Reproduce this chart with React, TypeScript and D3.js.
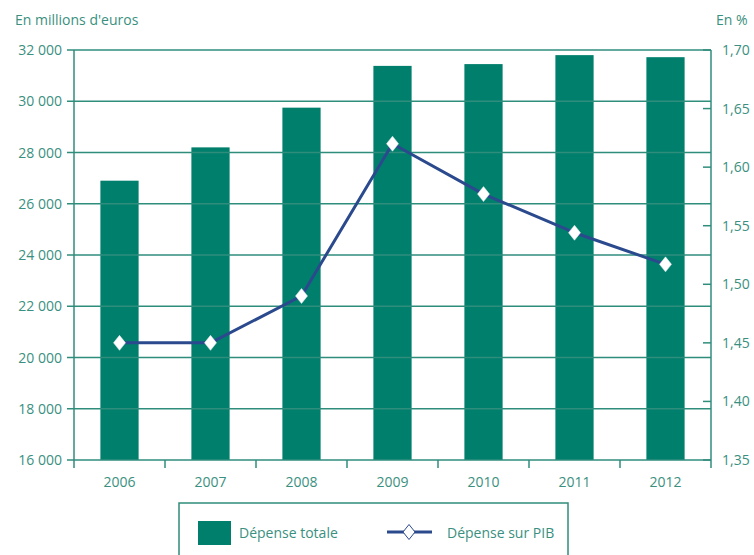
import React from "react";
import * as d3 from "d3";

const years = ["2006", "2007", "2008", "2009", "2010", "2011", "2012"];
const depenseTotale = [26900, 28200, 29750, 31380, 31450, 31800, 31720];
const depensePIB = [1.45, 1.45, 1.49, 1.62, 1.577, 1.544, 1.517];
const leftTicks = [16000, 18000, 20000, 22000, 24000, 26000, 28000, 30000, 32000];
const rightTicks = [1.35, 1.4, 1.45, 1.5, 1.55, 1.6, 1.65, 1.7];

const W = 754;
const H = 555;
const margin = { left: 74, right: 43, top: 50, bottom: 95 };
const TEAL = "#007f6c";
const AXIS = "#2f8d7c";
const TEXT = "#3a9080";
const NAVY = "#2b4a8e";
const FONT = "'Open Sans', sans-serif";

export default function App() {
  const x = d3
    .scaleBand<string>()
    .domain(years)
    .range([margin.left, W - margin.right])
    .paddingInner(0)
    .paddingOuter(0);
  const yL = d3.scaleLinear().domain([16000, 32000]).range([H - margin.bottom, margin.top]);
  const yR = d3.scaleLinear().domain([1.35, 1.7]).range([H - margin.bottom, margin.top]);
  const bw = x.bandwidth() * 0.42;
  const fmtL = (v: number) => d3.format(",")(v).replace(/,/g, "\u00a0");
  const fmtR = (v: number) => d3.format(".2f")(v).replace(".", ",");
  const x0 = margin.left;
  const x1 = W - margin.right;
  const yb = H - margin.bottom;

  const line = d3
    .line<number>()
    .x((_, i) => (x(years[i]) as number) + x.bandwidth() / 2)
    .y((d) => yR(d));

  const diamond = (cx: number, cy: number) =>
    `M${cx},${cy - 7.5}L${cx + 6},${cy}L${cx},${cy + 7.5}L${cx - 6},${cy}Z`;

  return (
    <svg
      width={W}
      height={H}
      style={{ position: "absolute", left: 0, top: 0, background: "#fff" }}
      fontFamily={FONT}
    >
      {/* bars */}
      {depenseTotale.map((v, i) => (
        <rect
          key={years[i]}
          x={(x(years[i]) as number) + (x.bandwidth() - bw) / 2}
          y={yL(v)}
          width={bw}
          height={yb - yL(v)}
          fill={TEAL}
        />
      ))}
      {/* gridlines */}
      {leftTicks.map((t) => (
        <line key={t} x1={x0 - 7} x2={x1} y1={yL(t)} y2={yL(t)} stroke={AXIS} strokeWidth={1.5} />
      ))}
      {rightTicks.map((t) => (
        <line key={t} x1={x1 - 8} x2={x1} y1={yR(t)} y2={yR(t)} stroke={AXIS} strokeWidth={1.5} />
      ))}
      {/* axes */}
      <line x1={x0} x2={x0} y1={margin.top} y2={yb + 8} stroke={AXIS} strokeWidth={1.5} />
      <line x1={x1} x2={x1} y1={margin.top} y2={yb + 8} stroke={AXIS} strokeWidth={1.5} />
      {years.slice(1).map((y) => (
        <line
          key={y}
          x1={x(y) as number}
          x2={x(y) as number}
          y1={yb}
          y2={yb + 8}
          stroke={AXIS}
          strokeWidth={1.5}
        />
      ))}
      {/* left labels */}
      {leftTicks.map((t) => (
        <text key={t} x={62} y={yL(t) + 5} textAnchor="end" fontSize={14} fill={TEXT}>
          {fmtL(t)}
        </text>
      ))}
      {rightTicks.map((t) => (
        <text key={t} x={722} y={yR(t) + 5} textAnchor="start" fontSize={14} fill={TEXT}>
          {fmtR(t)}
        </text>
      ))}
      {years.map((y) => (
        <text
          key={y}
          x={(x(y) as number) + x.bandwidth() / 2}
          y={487}
          textAnchor="middle"
          fontSize={14}
          fill={TEXT}
        >
          {y}
        </text>
      ))}
      <text x={15} y={25} fontSize={14} fill={TEXT}>
        En millions d'euros
      </text>
      <text x={716} y={25} fontSize={14} fill={TEXT}>
        En %
      </text>
      {/* line */}
      <path d={line(depensePIB) || ""} fill="none" stroke={NAVY} strokeWidth={3} strokeLinejoin="round" />
      {depensePIB.map((v, i) => (
        <path
          key={years[i]}
          d={diamond((x(years[i]) as number) + x.bandwidth() / 2, yR(v))}
          fill="#fff"
          stroke="#e8eef5"
          strokeWidth={0.5}
        />
      ))}
      {/* legend */}
      <rect x={179} y={503} width={389} height={80} fill="none" stroke={AXIS} strokeWidth={1.5} />
      <rect x={198} y={521} width={33} height={24} fill={TEAL} />
      <text x={239} y={538} fontSize={14} fill={TEXT}>
        Dépense totale
      </text>
      <line x1={387} x2={432} y1={532} y2={532} stroke={NAVY} strokeWidth={3} />
      <path d={diamond(409, 532)} fill="#fff" stroke={NAVY} strokeWidth={1} />
      <text x={447} y={538} fontSize={14} fill={TEXT}>
        Dépense sur PIB
      </text>
    </svg>
  );
}
